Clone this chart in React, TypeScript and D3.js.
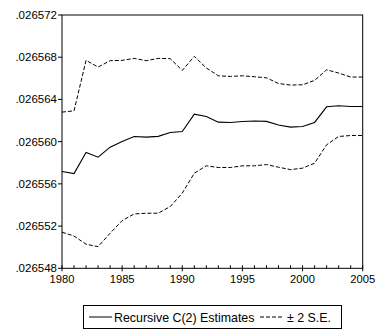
import React from "react";
import * as d3 from "d3";

const years = d3.range(1980, 2006);
const estimate = [
  0.02655717, 0.02655698, 0.02655897, 0.02655853, 0.02655948, 0.02656001,
  0.02656049, 0.02656043, 0.0265605, 0.02656087, 0.02656096, 0.02656261,
  0.02656238, 0.02656185, 0.02656182, 0.02656191, 0.02656195, 0.02656192,
  0.02656157, 0.02656138, 0.02656144, 0.02656182, 0.0265633, 0.0265634,
  0.02656333, 0.02656333,
];
const upper = [
  0.0265628, 0.02656292, 0.0265677, 0.02656707, 0.02656767, 0.0265677,
  0.02656789, 0.02656767, 0.02656789, 0.02656786, 0.02656675, 0.02656808,
  0.02656698, 0.02656624, 0.02656618, 0.02656624, 0.02656615, 0.02656605,
  0.02656551, 0.02656536, 0.02656539, 0.0265658, 0.02656681, 0.0265665,
  0.02656612, 0.02656612,
];
const lower = [
  0.02655142, 0.02655106, 0.02655028, 0.02655005, 0.02655132, 0.02655252,
  0.02655315, 0.02655322, 0.02655322, 0.02655385, 0.02655512, 0.02655701,
  0.02655771, 0.02655755, 0.02655755, 0.02655771, 0.02655771, 0.02655783,
  0.02655758, 0.02655735, 0.02655749, 0.02655796, 0.0265597, 0.02656049,
  0.02656058, 0.02656058,
];
const yTicks = [0.026548, 0.026552, 0.026556, 0.02656, 0.026564, 0.026568, 0.026572];
const xTicks = [1980, 1985, 1990, 1995, 2000, 2005];
const legendLabels = ["Recursive C(2) Estimates", "± 2 S.E."];

export default function App() {
  const W = 379, H = 336;
  const left = 62, right = 362.7, top = 15, bottom = 268.3;
  const x = d3.scaleLinear().domain([1980, 2005]).range([left, right]);
  const y = d3.scaleLinear().domain([0.026548, 0.026572]).range([bottom, top]);
  const line = d3.line<number>().x((_, i) => x(years[i])).y((d) => y(d));
  const fmt = (v: number) => d3.format(".6f")(v).replace(/^0/, "");
  const font = "Liberation Sans, Arial, sans-serif";
  return (
    <svg width={W} height={H} style={{ position: "absolute", left: 0, top: 0, background: "#fff" }}>
      <rect x={0} y={0} width={W} height={H} fill="#fff" />
      <rect x={left} y={top} width={right - left} height={bottom - top} fill="none" stroke="#000" strokeWidth={1} />
      {yTicks.map((t) => (
        <g key={t}>
          <line x1={left - 4} x2={left} y1={y(t)} y2={y(t)} stroke="#000" />
          <text x={left - 5} y={y(t) + 4} textAnchor="end" fontFamily={font} fontSize={11.5} fill="#000">
            {fmt(t)}
          </text>
        </g>
      ))}
      {years.map((yr) => (
        <line key={yr} x1={x(yr)} x2={x(yr)} y1={bottom} y2={bottom - 3} stroke="#000" />
      ))}
      {xTicks.map((t) => (
        <g key={t}>
          <line x1={x(t)} x2={x(t)} y1={bottom} y2={bottom + 3} stroke="#000" />
          <text x={x(t)} y={bottom + 15} textAnchor="middle" fontFamily={font} fontSize={11.2} fill="#000">
            {t}
          </text>
        </g>
      ))}
      <path d={line(upper) || ""} fill="none" stroke="#000" strokeWidth={1} strokeDasharray="4,2" />
      <path d={line(lower) || ""} fill="none" stroke="#000" strokeWidth={1} strokeDasharray="4,2" />
      <path d={line(estimate) || ""} fill="none" stroke="#000" strokeWidth={1.1} />
      <g>
        <rect x={83.5} y={305.5} width={258} height={23} fill="#fff" stroke="#000" />
        <line x1={89} x2={112} y1={317} y2={317} stroke="#000" />
        <text x={114} y={321.5} fontFamily={font} fontSize={12.4} fill="#000">{legendLabels[0]}</text>
        <line x1={260} x2={283} y1={317} y2={317} stroke="#000" strokeDasharray="4,2" />
        <text x={287} y={321.5} fontFamily={font} fontSize={12.4} fill="#000">{legendLabels[1]}</text>
      </g>
    </svg>
  );
}
